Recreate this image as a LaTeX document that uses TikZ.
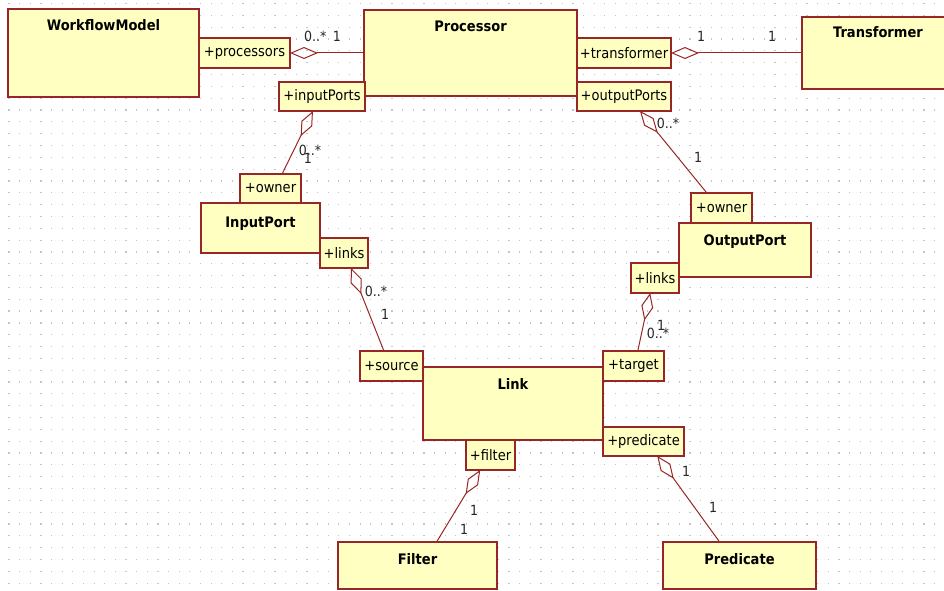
\documentclass[tikz,border=0pt]{standalone}
\usepackage{fontspec}
\setmainfont{DejaVu Sans Condensed}
\usetikzlibrary{arrows.meta,calc}
\definecolor{umlfill}{RGB}{255,255,194}
\definecolor{umlline}{RGB}{153,38,38}
\definecolor{griddot}{RGB}{196,196,196}
\tikzset{
  classbox/.style={draw=umlline, fill=umlfill, line width=1.3pt, inner sep=0pt, outer sep=0pt, anchor=north west},
  rolebox/.style={classbox, font=\fontsize{14.5}{16}\selectfont, text=black},
  classtitle/.style={font=\bfseries\fontsize{14.5}{16}\selectfont, anchor=base, inner sep=0pt},
  mult/.style={font=\fontsize{14}{16}\selectfont, inner sep=0pt, text=black!85},
  assoc/.style={draw=umlline, line width=1pt, {Diamond[open,length=28pt,width=12pt,line width=1pt]}-}
}
\begin{document}
\begin{tikzpicture}[x=1pt,y=-1pt]
\clip (0,0) rectangle (944,591);
\fill[white] (0,0) rectangle (944,591);
% dotted canvas grid
\foreach \i in {0,...,88} {
  \foreach \j in {0,...,49} {
    \fill[griddot] ({9+10.64*\i-0.6},{3.5+11.83*\j-0.6}) rectangle ++(1.2,1.2);
  }
}
% classes
\node[classbox, minimum width=191pt, minimum height=88pt] (wfm) at (8,9) {};
\node[classbox, minimum width=213pt, minimum height=86pt] (proc) at (364,10) {};
\node[classbox, minimum width=156pt, minimum height=72pt] (trans) at (802,17) {};
\node[classbox, minimum width=119pt, minimum height=50pt] (inport) at (201,203) {};
\node[classbox, minimum width=132pt, minimum height=54pt] (outport) at (679,223) {};
\node[classbox, minimum width=180pt, minimum height=73pt] (link) at (423,367) {};
\node[classbox, minimum width=159pt, minimum height=47pt] (filter) at (338,542) {};
\node[classbox, minimum width=153pt, minimum height=47pt] (pred) at (663,542) {};
% class names
\node[classtitle] (wfmT) at ($(wfm.north)+(0,22)$) {WorkflowModel};
\node[classtitle] (procT) at ($(proc.north)+(0,22)$) {Processor};
\node[classtitle] (transT) at ($(trans.north)+(-2,21)$) {Transformer};
\node[classtitle] (inportT) at ($(inport.north)+(0,24)$) {InputPort};
\node[classtitle] (outportT) at ($(outport.north)+(0,22)$) {OutputPort};
\node[classtitle] (linkT) at ($(link.north)+(0,22)$) {Link};
\node[classtitle] (filterT) at ($(filter.north)+(0,22)$) {Filter};
\node[classtitle] (predT) at ($(pred.north)+(0,22)$) {Predicate};
% association ends
\node[rolebox, minimum width=91pt, minimum height=30pt] (procs) at (199,38) {+processors};
\node[rolebox, minimum width=86pt, minimum height=29pt] (inports) at (279,82) {+inputPorts};
\node[rolebox, minimum width=94pt, minimum height=30pt] (transf) at (577,38) {+transformer};
\node[rolebox, minimum width=94pt, minimum height=29pt] (outports) at (577,82) {+outputPorts};
\node[rolebox, minimum width=61pt, minimum height=29pt] (inowner) at (240,174) {+owner};
\node[rolebox, minimum width=48pt, minimum height=30pt] (inlinks) at (320,238) {+links};
\node[rolebox, minimum width=61pt, minimum height=30pt] (outowner) at (691,193) {+owner};
\node[rolebox, minimum width=48pt, minimum height=30pt] (outlinks) at (631,263) {+links};
\node[rolebox, minimum width=63pt, minimum height=30pt] (source) at (360,351) {+source};
\node[rolebox, minimum width=61pt, minimum height=30pt] (target) at (603,351) {+target};
\node[rolebox, minimum width=81pt, minimum height=29pt] (predicate) at (603,427) {+predicate};
\node[rolebox, minimum width=49pt, minimum height=30pt] (filt) at (466,440) {+filter};
% aggregations
\draw[assoc] (procs.east) -- (procs.east -| proc.west);
\draw[assoc] (transf.east) -- (transf.east -| trans.west);
\draw[assoc] ($(inports.south west)!0.395!(inports.south east)$) -- ($(inowner.north west)!0.69!(inowner.north east)$);
\draw[assoc] ($(outports.south west)!0.67!(outports.south east)$) -- ($(outowner.north west)!0.26!(outowner.north east)$);
\draw[assoc] ($(inlinks.south west)!0.646!(inlinks.south east)$) -- ($(source.north west)!0.38!(source.north east)$);
\draw[assoc] ($(outlinks.south west)!0.4!(outlinks.south east)$) -- ($(target.north west)!0.57!(target.north east)$);
\draw[assoc] ($(filt.south west)!0.29!(filt.south east)$) -- ($(filter.north west)!0.62!(filter.north east)$);
\draw[assoc] ($(predicate.south west)!0.67!(predicate.south east)$) -- ($(pred.north west)!0.37!(pred.north east)$);
% multiplicities
\node[mult, anchor=west] (m1) at (304,36) {0..*};
\node[mult] (m2) at (337,36) {1};
\node[mult] (m3) at (701,36) {1};
\node[mult] (m4) at (772,36) {1};
\node[mult] (m5) at (310,150) {0..*};
\node[mult] (m6) at (308,158) {1};
\node[mult] (m7) at (668,123) {0..*};
\node[mult] (m8) at (698,157) {1};
\node[mult] (m9) at (376,291) {0..*};
\node[mult] (m10) at (385,314) {1};
\node[mult] (m11) at (658,333) {0..*};
\node[mult] (m12) at (661,325) {1};
\node[mult] (m13) at (474,510) {1};
\node[mult] (m14) at (464,529) {1};
\node[mult] (m15) at (686,471) {1};
\node[mult] (m16) at (713,507) {1};
\end{tikzpicture}
\end{document}
